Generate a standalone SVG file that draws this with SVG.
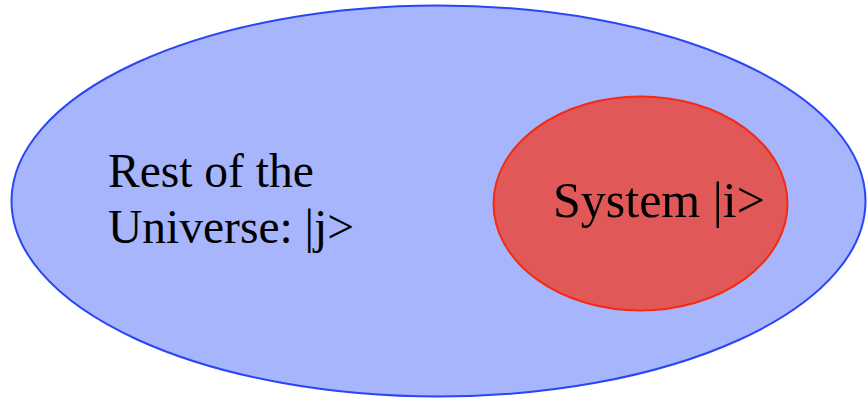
<svg xmlns="http://www.w3.org/2000/svg" width="867" height="398" viewBox="0 0 867 398">
<style>
text{font-family:"Liberation Serif","Times New Roman",serif;fill:#000}
</style>
<rect width="867" height="398" fill="#fff"/>
<g id="universe">
<ellipse cx="438.5" cy="201" rx="427" ry="195.5" fill="#a6b5fc" stroke="#2a45f5" stroke-width="2"/>
<text x="108" y="187" font-size="47.5">Rest of the</text>
<text x="108" y="243" font-size="47.5">Universe: |j&gt;</text>
</g>
<g id="system">
<ellipse cx="640.5" cy="203.5" rx="147" ry="107" fill="#e05858" stroke="#f52a10" stroke-width="2"/>
<text x="553" y="217" font-size="50">System |i&gt;</text>
</g>
<g id="connectors"/>
</svg>
